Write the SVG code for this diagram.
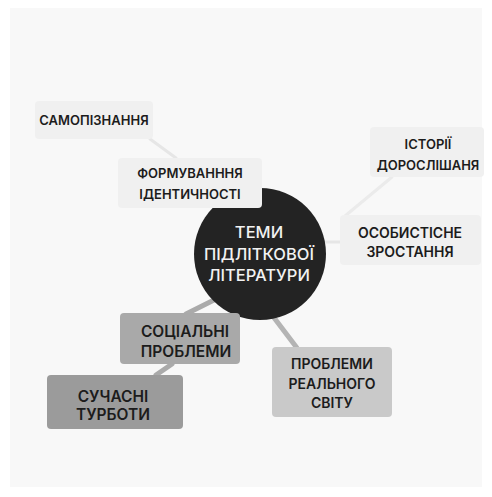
<svg xmlns="http://www.w3.org/2000/svg" width="492" height="497" viewBox="0 0 492 497">
<style>
.t{font-family:Inter,"Noto Sans","Liberation Sans",sans-serif;font-weight:600;font-size:13px;fill:#1c1c1c;text-anchor:middle}
.m{font-size:14px}
.b{font-size:15.5px}
.c{font-family:Inter,"Noto Sans","Liberation Sans",sans-serif;font-weight:500;font-size:16.5px;fill:#f2f2f2;text-anchor:middle}
.l{fill:none;stroke-linecap:round}
</style>
<rect width="492" height="497" fill="#ffffff"/>
<rect x="10" y="8" width="472" height="479" fill="#f8f8f8"/>
<g id="connectors">
<line class="l" x1="150" y1="139" x2="176" y2="158" stroke="#e6e6e6" stroke-width="3"/>
<line class="l" x1="392" y1="177" x2="345" y2="216" stroke="#ebebeb" stroke-width="3"/>
<line class="l" x1="318" y1="242" x2="341" y2="242" stroke="#e6e6e6" stroke-width="3"/>
<line class="l" x1="218" y1="298" x2="186" y2="314" stroke="#aaaaaa" stroke-width="5"/>
<line class="l" x1="172" y1="364" x2="156" y2="375" stroke="#aaaaaa" stroke-width="5"/>
<line class="l" x1="272" y1="315" x2="297" y2="348" stroke="#b4b4b4" stroke-width="5"/>
</g>
<g id="samopiznannia">
<rect x="35" y="101" width="118" height="38" rx="4" fill="#f0f0f0"/>
<text class="t" x="94" y="124.5">САМОПІЗНАННЯ</text>
</g>
<g id="istorii">
<rect x="370" y="127" width="114" height="50" rx="4" fill="#f0f0f0"/>
<text class="t" x="428" y="149">ІСТОРІЇ</text>
<text class="t" x="428" y="169.5">ДОРОСЛІШАНЯ</text>
</g>
<g id="osobystisne">
<rect x="340" y="215" width="141" height="50" rx="4" fill="#f0f0f0"/>
<text class="t m" x="410" y="238">ОСОБИСТІСНЕ</text>
<text class="t m" x="410" y="257">ЗРОСТАННЯ</text>
</g>
<g id="center">
<circle cx="260" cy="254" r="66" fill="#232323"/>
<text class="c" x="259" y="238">ТЕМИ</text>
<text class="c" x="259" y="260">ПІДЛІТКОВОЇ</text>
<text class="c" x="259" y="281">ЛІТЕРАТУРИ</text>
</g>
<g id="formuvannia">
<rect x="118" y="158" width="144" height="50" rx="4" fill="#f0f0f0"/>
<text class="t" x="190" y="178">ФОРМУВАНННЯ</text>
<text class="t" x="190" y="199">ІДЕНТИЧНОСТІ</text>
</g>
<g id="sotsialni">
<rect x="120" y="313" width="120" height="51" rx="4" fill="#a9a9a9"/>
<text class="t b" x="185" y="337">СОЦІАЛЬНІ</text>
<text class="t b" x="186" y="357">ПРОБЛЕМИ</text>
</g>
<g id="suchasni">
<rect x="47" y="375" width="136" height="54" rx="4" fill="#9b9b9b"/>
<text class="t b" x="113" y="402">СУЧАСНІ</text>
<text class="t b" x="113" y="420">ТУРБОТИ</text>
</g>
<g id="realnoho">
<rect x="272" y="347" width="120" height="70" rx="4" fill="#c9c9c9"/>
<text class="t m" x="332" y="369">ПРОБЛЕМИ</text>
<text class="t m" x="332" y="389">РЕАЛЬНОГО</text>
<text class="t m" x="332" y="408">СВІТУ</text>
</g>
</svg>
